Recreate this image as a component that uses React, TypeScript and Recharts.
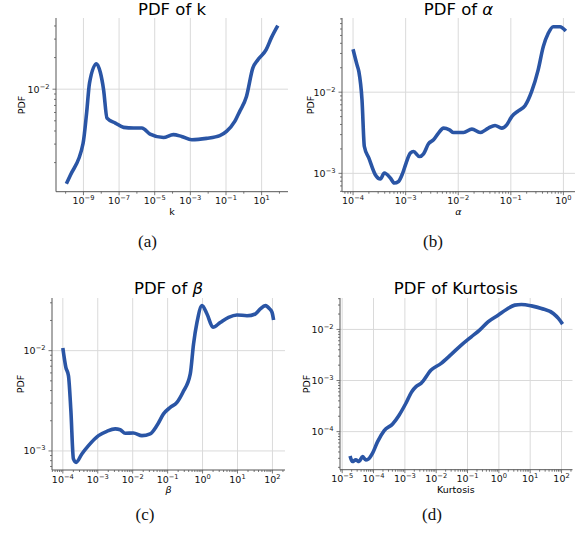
import React from "react";
import { LineChart, Line, XAxis, YAxis, ReferenceLine } from "recharts";

// (a) PDF of k
const kValues = [1.1e-10, 1.9e-10, 9.5e-10, 1.5e-9, 2.2e-9, 5.4e-9, 8.9e-9, 1.35e-8, 2.1e-8, 6.2e-8, 1.8e-7, 6.5e-7, 1.9e-6, 5.5e-6, 3.1e-5, 1.1e-4, 3.2e-4, 1.2e-3, 8.1e-3, 0.045, 0.107, 0.31, 0.59, 1.41, 3.2, 6.2, 18, 35, 81];
const kPdf = [1.26e-3, 1.53e-3, 3.04e-3, 5.9e-3, 0.0115, 0.0175, 0.0144, 9.9e-3, 5.3e-3, 4.76e-3, 4.33e-3, 4.27e-3, 4.27e-3, 3.74e-3, 3.47e-3, 3.69e-3, 3.55e-3, 3.3e-3, 3.4e-3, 3.61e-3, 3.96e-3, 4.93e-3, 6.15e-3, 8.54e-3, 0.0159, 0.0191, 0.0238, 0.0308, 0.0403];

// (b) PDF of alpha
const alphaValues = [1.0e-4, 1.19e-4, 1.29e-4, 1.48e-4, 1.64e-4, 2.0e-4, 2.65e-4, 3.31e-4, 3.93e-4, 5.13e-4, 6.08e-4, 7.33e-4, 8.71e-4, 1.02e-3, 1.23e-3, 1.41e-3, 1.84e-3, 2.19e-3, 2.72e-3, 3.39e-3, 4.21e-3, 5.25e-3, 6.81e-3, 8.13e-3, 0.0126, 0.0182, 0.0261, 0.0374, 0.0501, 0.0671, 0.0836, 0.104, 0.139, 0.186, 0.249, 0.331, 0.414, 0.515, 0.64, 0.857, 1.11];
const alphaPdf = [0.0338, 0.0217, 0.0179, 8.04e-3, 2.14e-3, 1.54e-3, 9.62e-4, 8.51e-4, 1.01e-3, 8.75e-4, 7.6e-4, 7.95e-4, 9.9e-4, 1.34e-3, 1.78e-3, 1.86e-3, 1.61e-3, 1.74e-3, 2.31e-3, 2.59e-3, 3.13e-3, 3.61e-3, 3.44e-3, 3.18e-3, 3.18e-3, 3.51e-3, 3.18e-3, 3.61e-3, 3.89e-3, 3.61e-3, 3.96e-3, 5.01e-3, 5.89e-3, 6.8e-3, 0.0102, 0.0188, 0.0364, 0.0532, 0.0641, 0.0641, 0.0567];

// (c) PDF of beta
const betaValues = [1.0e-4, 1.22e-4, 1.45e-4, 1.7e-4, 2.01e-4, 2.4e-4, 3.5e-4, 5.42e-4, 1.05e-3, 1.82e-3, 3.16e-3, 4.39e-3, 6.1e-3, 0.0105, 0.0184, 0.0316, 0.0493, 0.0762, 0.119, 0.185, 0.274, 0.445, 0.552, 0.692, 0.962, 1.34, 1.99, 3.21, 5.56, 9.68, 18.7, 32.4, 45, 62.7, 83.2, 97.5, 108];
const betaPdf = [0.01064, 6.82e-3, 5.63e-3, 2.52e-3, 8.32e-4, 7.7e-4, 9.33e-4, 1.13e-3, 1.42e-3, 1.57e-3, 1.66e-3, 1.63e-3, 1.5e-3, 1.51e-3, 1.42e-3, 1.48e-3, 1.79e-3, 2.34e-3, 2.72e-3, 3.05e-3, 3.85e-3, 5.86e-3, 0.01166, 0.0191, 0.0281, 0.0232, 0.0171, 0.0191, 0.0215, 0.0227, 0.0223, 0.0232, 0.0261, 0.0281, 0.0261, 0.0241, 0.0202];

// (d) PDF of Kurtosis
const kurtValues = [1.78e-5, 2.12e-5, 2.71e-5, 3.47e-5, 4.44e-5, 5.66e-5, 6.71e-5, 9.33e-5, 1.35e-4, 2.19e-4, 4.07e-4, 6.61e-4, 1.08e-3, 1.66e-3, 2.27e-3, 3.28e-3, 6.87e-3, 0.0144, 0.0302, 0.0631, 0.132, 0.243, 0.451, 0.942, 1.74, 3.21, 5.25, 11, 22.9, 54.6, 79.4, 108];
const kurtPdf = [3.35e-5, 2.6e-5, 2.8e-5, 2.6e-5, 3.25e-5, 2.8e-5, 2.88e-5, 3.8e-5, 6.38e-5, 1.05e-4, 1.41e-4, 2.12e-4, 3.59e-4, 6.04e-4, 7.58e-4, 8.81e-4, 1.6e-3, 2.17e-3, 3.25e-3, 4.94e-3, 7.18e-3, 9.7e-3, 0.0141, 0.019, 0.0246, 0.0299, 0.0308, 0.0289, 0.0257, 0.0205, 0.0164, 0.0127];

const LINE = "#2a55a5";
const FRAME = "#555";
const GRID = "#dadada";
const TXT = "#111";
const FONT = "'DejaVu Sans', sans-serif";

const rowsOf = (xs: number[], ys: number[]) => xs.map((x, i) => ({ x, y: ys[i] }));

// 2..9 x 10^d inside the (log10) domain
const subs = (decades: number[], dom: number[]) => {
  const out: number[] = [];
  decades.forEach((d) => {
    for (let m = 2; m <= 9; m++) {
      const v = m * Math.pow(10, d);
      const e = Math.log10(v);
      if (e >= dom[0] && e <= dom[1]) out.push(v);
    }
  });
  return out;
};
const decs = (decades: number[], dom: number[]) =>
  decades.filter((d) => d >= dom[0] && d <= dom[1]).map((d) => Math.pow(10, d));

const isMajor = (v: number, majors: number[]) => {
  const e = Math.log10(v);
  return majors.some((m) => Math.abs(m - e) < 1e-6);
};
const expText = (v: number) => {
  const e = Math.round(Math.log10(v));
  return e < 0 ? "\u2212" + Math.abs(e) : String(e);
};

const renderXTick = (p: any, majors: number[]) => {
  const { x, y, payload } = p;
  const major = isMajor(payload.value, majors);
  return (
    <g>
      <line x1={x} x2={x} y1={y} y2={y + (major ? 3.5 : 2)} stroke={FRAME} strokeWidth={0.8} />
      {major && (
        <text x={x} y={y + 12.8} textAnchor="middle" fontSize={9.5} fill={TXT} fontFamily={FONT}>
          <tspan>10</tspan>
          <tspan dy={-4} fontSize={6.7}>{expText(payload.value)}</tspan>
        </text>
      )}
    </g>
  );
};

const renderYTick = (p: any, majors: number[]) => {
  const { x, y, payload } = p;
  const major = isMajor(payload.value, majors);
  return (
    <g>
      <line x1={x} x2={x - (major ? 3.5 : 2)} y1={y} y2={y} stroke={FRAME} strokeWidth={0.8} />
      {major && (
        <text x={x - 6.5} y={y + 3.4} textAnchor="end" fontSize={9.5} fill={TXT} fontFamily={FONT}>
          <tspan>10</tspan>
          <tspan dy={-4} fontSize={6.7}>{expText(payload.value)}</tspan>
        </text>
      )}
    </g>
  );
};

type PanelProps = {
  rect: number[]; // plot area: left, top, right, bottom
  rows: { x: number; y: number }[];
  xDom: number[];
  yDom: number[];
  xMajor: number[];
  xMinor: number[];
  yMajor: number[];
  yMinor: number[];
};

const PADL = 60;
const PADT = 10;
const PADR = 10;
const PADB = 30;

function Panel({ rect, rows, xDom, yDom, xMajor, xMinor, yMajor, yMinor }: PanelProps) {
  const [l, t, r, b] = rect;
  const xd = [Math.pow(10, xDom[0]), Math.pow(10, xDom[1])];
  const yd = [Math.pow(10, yDom[0]), Math.pow(10, yDom[1])];
  const xTicks = [...decs(xMajor, xDom), ...xMinor].sort((a, c) => a - c);
  const yTicks = [...decs(yMajor, yDom), ...yMinor].sort((a, c) => a - c);
  return (
    <div style={{ position: "absolute", left: l - PADL, top: t - PADT }}>
      <LineChart
        width={r - l + PADL + PADR}
        height={b - t + PADT + PADB}
        data={rows}
        margin={{ top: PADT, right: PADR, left: 0, bottom: 0 }}
      >
        <XAxis
          dataKey="x"
          type="number"
          scale="log"
          domain={xd}
          allowDataOverflow
          ticks={xTicks}
          interval={0}
          tickLine={false}
          tickSize={0}
          tickMargin={0}
          height={PADB}
          axisLine={{ stroke: FRAME }}
          tick={(p: any) => renderXTick(p, xMajor)}
        />
        <XAxis
          xAxisId="top"
          orientation="top"
          type="number"
          scale="log"
          domain={xd}
          allowDataOverflow
          height={0}
          tick={false}
          tickLine={false}
          axisLine={{ stroke: FRAME }}
        />
        <YAxis
          type="number"
          scale="log"
          domain={yd}
          allowDataOverflow
          ticks={yTicks}
          interval={0}
          tickLine={false}
          tickSize={0}
          tickMargin={0}
          width={PADL}
          axisLine={{ stroke: FRAME }}
          tick={(p: any) => renderYTick(p, yMajor)}
        />
        <YAxis
          yAxisId="right"
          orientation="right"
          type="number"
          scale="log"
          domain={yd}
          allowDataOverflow
          width={0}
          tick={false}
          tickLine={false}
          axisLine={{ stroke: FRAME }}
        />
        {decs(xMajor, xDom).map((v) => (
          <ReferenceLine key={"gx" + v} x={v} stroke={GRID} strokeWidth={1} />
        ))}
        {decs(yMajor, yDom).map((v) => (
          <ReferenceLine key={"gy" + v} y={v} stroke={GRID} strokeWidth={1} />
        ))}
        <Line
          dataKey="y"
          type="monotone"
          stroke={LINE}
          strokeWidth={3.6}
          dot={false}
          isAnimationActive={false}
        />
      </LineChart>
    </div>
  );
}

const domA = { x: [-10.54, 2.48], y: [-2.976, -1.322] };
const domB = { x: [-4.21, 0.22], y: [-3.226, -1.086] };
const domC = { x: [-4.31, 2.36], y: [-3.19, -1.475] };
const domD = { x: [-5.07, 2.35], y: [-4.745, -1.385] };

const captionStyle = { fontFamily: "'Liberation Serif', serif", fontSize: 17, fill: "#111" };

export default function App() {
  return (
    <div style={{ position: "absolute", left: 0, top: 0, width: 584, height: 535, background: "#fff" }}>
      <Panel
        rect={[56, 18.3, 288, 192]}
        rows={rowsOf(kValues, kPdf)}
        xDom={domA.x}
        yDom={domA.y}
        xMajor={[-9, -7, -5, -3, -1, 1]}
        xMinor={decs([-10, -8, -6, -4, -2, 0, 2], domA.x)}
        yMajor={[-2]}
        yMinor={subs([-3, -2], domA.y)}
      />
      <Panel
        rect={[342, 18.3, 575, 192]}
        rows={rowsOf(alphaValues, alphaPdf)}
        xDom={domB.x}
        yDom={domB.y}
        xMajor={[-4, -3, -2, -1, 0]}
        xMinor={subs([-5, -4, -3, -2, -1, 0], domB.x)}
        yMajor={[-3, -2]}
        yMinor={subs([-4, -3, -2], domB.y)}
      />
      <Panel
        rect={[52, 298, 285, 470]}
        rows={rowsOf(betaValues, betaPdf)}
        xDom={domC.x}
        yDom={domC.y}
        xMajor={[-4, -3, -2, -1, 0, 1, 2]}
        xMinor={subs([-5, -4, -3, -2, -1, 0, 1, 2], domC.x)}
        yMajor={[-3, -2]}
        yMinor={subs([-4, -3, -2], domC.y)}
      />
      <Panel
        rect={[339.5, 298.3, 572, 470]}
        rows={rowsOf(kurtValues, kurtPdf)}
        xDom={domD.x}
        yDom={domD.y}
        xMajor={[-5, -4, -3, -2, -1, 0, 1, 2]}
        xMinor={subs([-6, -5, -4, -3, -2, -1, 0, 1, 2], domD.x)}
        yMajor={[-4, -3, -2]}
        yMinor={subs([-5, -4, -3, -2], domD.y)}
      />
      <svg width={584} height={535} style={{ position: "absolute", left: 0, top: 0, pointerEvents: "none" }}>
        <g fontFamily={FONT} fill="#000" textAnchor="middle">
          <text x={172} y={15} fontSize={16.5}>PDF of k</text>
          <text x={458.5} y={15} fontSize={16.5}>
            PDF of <tspan fontStyle="italic">α</tspan>
          </text>
          <text x={168.5} y={294} fontSize={16.5}>
            PDF of <tspan fontStyle="italic">β</tspan>
          </text>
          <text x={455.8} y={294} fontSize={16.5}>PDF of Kurtosis</text>

          <text x={172} y={215} fontSize={9.5}>k</text>
          <text x={458.5} y={215} fontSize={9.5} fontStyle="italic">α</text>
          <text x={168.5} y={492.5} fontSize={9.5} fontStyle="italic">β</text>
          <text x={455.8} y={493} fontSize={9.5}>Kurtosis</text>

          <text x={25} y={105} fontSize={9.5} transform="rotate(-90 25 105)">PDF</text>
          <text x={313.5} y={105} fontSize={9.5} transform="rotate(-90 313.5 105)">PDF</text>
          <text x={23.5} y={384} fontSize={9.5} transform="rotate(-90 23.5 384)">PDF</text>
          <text x={310} y={384} fontSize={9.5} transform="rotate(-90 310 384)">PDF</text>
        </g>
        <g textAnchor="middle" style={captionStyle}>
          <text x={147.5} y={247}>(a)</text>
          <text x={433} y={247}>(b)</text>
          <text x={145} y={520}>(c)</text>
          <text x={432} y={520}>(d)</text>
        </g>
      </svg>
    </div>
  );
}
